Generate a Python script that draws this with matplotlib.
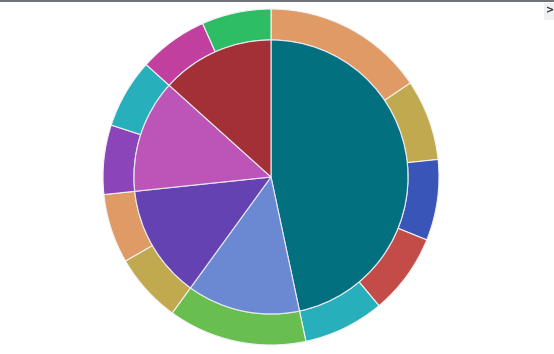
import matplotlib.pyplot as plt
from matplotlib.patches import Rectangle

# inner pie (parents) and outer ring (children), clockwise from 12 o'clock
inner_values = [42, 12, 12, 12, 12]
inner_colors = ['#02707f', '#6a89d2', '#6442b1', '#bd55b8', '#a23036']

outer_values = [14, 7, 7, 7, 7, 12, 6, 6, 6, 6, 6, 6]
outer_colors = ['#e09a65', '#c0a94f', '#3a55b8', '#c44c48', '#27b0bb',
                '#69be50', '#c0a94f', '#e09a65', '#8c45b9', '#27b0bb',
                '#c13f9f', '#2dbe65']

W, H = 554, 354
fig = plt.figure(figsize=(W / 100, H / 100), dpi=100)
ax = fig.add_axes([0, 0, 1, 1])
ax.set_xlim(0, W)
ax.set_ylim(0, H)
ax.set_aspect('equal')
ax.axis('off')

cx, cy = 271, 177
r_out, r_in = 168, 137

ax.pie(outer_values, colors=outer_colors, radius=r_out, center=(cx, cy),
       startangle=90, counterclock=False,
       wedgeprops=dict(width=r_out - r_in, edgecolor='#f2f2f2', linewidth=0.8))
ax.pie(inner_values, colors=inner_colors, radius=r_in, center=(cx, cy),
       startangle=90, counterclock=False,
       wedgeprops=dict(edgecolor='#e8e8f0', linewidth=0.8))
ax.set_xlim(0, W)
ax.set_ylim(0, H)

# top border and the little toggle in the corner
fig.add_artist(Rectangle((0, 1 - 2 / H), 1, 2 / H, transform=fig.transFigure,
                         color='#707378', lw=0))
fig.add_artist(Rectangle((1 - 10 / W, 1 - 20 / H), 10 / W, 17 / H,
                         transform=fig.transFigure, color='#eef0f2', lw=0))
fig.text(1 - 4 / W, 1 - 10 / H, '>', fontsize=7, fontweight='bold',
         color='#333', ha='center', va='center')

fig.savefig('out.png', dpi=100)
